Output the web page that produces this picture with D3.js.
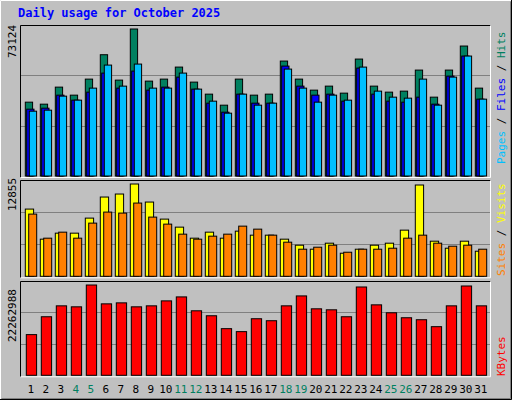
<!DOCTYPE html>
<html><head><script src="https://cdn.jsdelivr.net/npm/d3@7"></script>
<style>body{margin:0;background:#fff}text{font-family:"DejaVu Sans Mono",monospace}</style></head>
<body><svg id="c" width="512" height="400"></svg>
<script>
const days = d3.range(1,32);
const weekends = [4,5,11,12,18,19,25,26];
const maxHits = 73124, maxVisits = 12855, maxKB = 22262988;
const hitsY  = [247,253,202,226,178,105,181,28,184,178,142,187,223,256,178,226,223,124,178,211,199,220,118,199,217,214,151,232,151,79,205];
const filesY = [268,265,226,241,217,160,205,154,211,202,172,208,250,277,223,250,250,139,199,226,223,244,145,223,244,247,232,253,169,109,238];
const pagesY = [274,271,229,241,205,136,199,133,205,205,160,208,244,280,223,256,250,148,205,247,226,241,142,214,232,235,178,256,172,109,238];
const hits  = hitsY.map(v=>Math.round((468-v)/440*maxHits));
const files = filesY.map(v=>Math.round((468-v)/440*maxHits));
const pages = pagesY.map(v=>Math.round((468-v)/440*maxHits));
const visitsY=[103,193,175,175,130,67,58,28,82,133,157,190,172,190,169,181,181,193,211,223,205,235,223,211,205,166,31,199,220,199,229];
const sitesY =[118,190,172,190,145,112,115,85,127,148,178,193,184,178,154,163,181,202,223,217,211,232,223,223,220,190,181,205,214,211,223];
const visits = visitsY.map(v=>Math.round((304-v)/276*maxVisits));
const sites  = sitesY.map(v=>Math.round((304-v)/276*maxVisits));
const kbY=[478,424,391,394,328,385,382,394,391,376,364,406,421,460,469,430,436,391,361,400,403,424,334,388,412,427,433,454,391,331,391];
const kbytes = kbY.map(v=>Math.round((601-v)/273*maxKB));

const svg=d3.select("#c");
svg.append("rect").attr("x",0).attr("y",0).attr("width",512).attr("height",400).attr("fill","#c0c0c0");
svg.append("path").attr("d","M0.5,399.5V0.5H511.5").attr("stroke","#fff").attr("fill","none");
svg.append("path").attr("d","M1.5,398.5H510.5V1.5").attr("stroke","#808080").attr("fill","none");
svg.append("path").attr("d","M0,399.5H511.5V0").attr("stroke","#000").attr("fill","none");
svg.append("text").attr("x",18).attr("y",17).attr("fill","#0000ff").attr("font-weight","bold").attr("font-size",12).text("Daily usage for October 2025");

const x=d3.scaleLinear().domain([1,31]).range([25.3,475.3]);
const panels=[{top:25,base:176},{top:180,base:276.3},{top:281,base:375.3}];
panels.forEach(p=>{
  svg.append("path").attr("d",`M20.5,${p.base+1.5}V${p.top+0.5}H490.5`).attr("stroke","#000").attr("fill","none");
  svg.append("path").attr("d",`M20.5,${p.base+1.5}H490.5V${p.top+0.5}`).attr("stroke","#fff").attr("fill","none");
  const h=p.base-p.top;
  [1,2].forEach(i=>svg.append("line").attr("x1",21).attr("x2",490).attr("y1",Math.round(p.base-h*i/3)+0.5).attr("y2",Math.round(p.base-h*i/3)+0.5).attr("stroke","#808080"));
});
function bars(data,max,top,base,off,w,col){
  const y=d3.scaleLinear().domain([0,max]).range([base,top+4]);
  svg.append("g").selectAll("rect").data(data).join("rect")
   .attr("x",(d,i)=>x(days[i])+off).attr("y",d=>y(d)).attr("width",w).attr("height",d=>base-y(d))
   .attr("fill",col).attr("stroke","#000").attr("stroke-width",1);
}
bars(hits,maxHits,25,176,0,7.3,"#008060");
bars(files,maxHits,25,176,1.4,7.3,"#0000ff");
bars(pages,maxHits,25,176,4,7.3,"#00c0ff");
bars(visits,maxVisits,180,276.3,0,8.3,"#ffff00");
bars(sites,maxVisits,180,276.3,3.4,8,"#ff8000");
bars(kbytes,maxKB,281,375.3,1,10.3,"#ff0000");

function vtext(xp,yp,t,col){svg.append("text").attr("transform",`translate(${xp},${yp}) rotate(-90)`).attr("fill",col).attr("font-size",11).text(t);}
vtext(16,58,"73124","#000");
vtext(16,211,"12855","#000");
vtext(16,342,"22262988","#000");
function rlabel(yb,parts){
  const t=svg.append("text").attr("transform",`translate(505,${yb}) rotate(-90)`).attr("font-size",11);
  parts.forEach(([s,c])=>t.append("tspan").attr("fill",c).text(s));
}
rlabel(164,[["Pages","#00c0ff"],[" / ","#000"],["Files","#0000ff"],[" / ","#000"],["Hits","#008060"]]);
rlabel(276,[["Sites","#ff8000"],[" / ","#000"],["Visits","#ffff00"]]);
rlabel(376,[["KBytes","#ff0000"]]);
svg.append("g").selectAll("text").data(days).join("text")
  .attr("x",d=>x(d)+5.5).attr("y",393).attr("text-anchor","middle").attr("font-size",11)
  .attr("fill",d=>weekends.includes(d)?"#008060":"#000").text(d=>d);
</script></body></html>
